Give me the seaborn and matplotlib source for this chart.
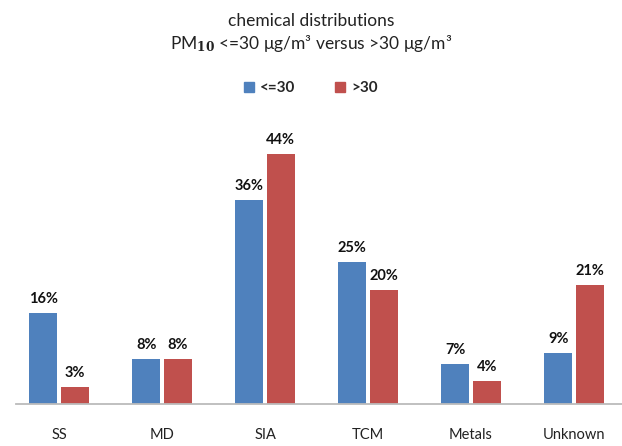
import matplotlib
matplotlib.use("Agg")
import matplotlib.pyplot as plt
import seaborn as sns
import pandas as pd

categories = ["SS", "MD", "SIA", "TCM", "Metals", "Unknown"]
low_pm = [16, 8, 36, 25, 7, 9]      # PM10 <= 30 µg/m3, percent
high_pm = [3, 8, 44, 20, 4, 21]     # PM10 > 30 µg/m3, percent
series_names = ["<=30", ">30"]
colors = ["#4F81BD", "#C0504D"]

df = pd.DataFrame({
    "component": categories * 2,
    "share": low_pm + high_pm,
    "group": [series_names[0]] * len(categories) + [series_names[1]] * len(categories),
})

sns.set_theme(style="white")
plt.rcParams["font.family"] = ["Lato", "DejaVu Sans"]
plt.rcParams["mathtext.fontset"] = "dejavuserif"

fig = plt.figure(figsize=(6.22, 4.46), dpi=100)
ax = fig.add_axes([16 / 622, 42 / 446, 606 / 622, 284 / 446])

sns.barplot(data=df, x="component", y="share", hue="group",
            palette=colors, width=0.61, gap=0.11, saturation=1,
            linewidth=0, ax=ax, legend=False)

ax.set_ylim(0, 50)
ax.set_xlim(-0.4175, 5.466)
ax.set_xlabel("")
ax.set_ylabel("")
ax.set_yticks([])
ax.tick_params(axis="x", length=0, pad=17, labelsize=10.5, colors="#222222")
for side in ["top", "left", "right"]:
    ax.spines[side].set_visible(False)
ax.spines["bottom"].set_color("#BBBBBB")
ax.spines["bottom"].set_linewidth(1.3)

for container, vals in zip(ax.containers, [low_pm, high_pm]):
    ax.bar_label(container, labels=[f"{v}%" for v in vals], padding=5,
                 fontsize=10.5, fontweight="bold", color="#111111")

fig.text(0.5, 1 - 21 / 446, "chemical distributions", ha="center", va="center",
         fontsize=12.5, color="#222222")
fig.text(0.5, 1 - 43 / 446,
         r"PM$_{\mathbf{10}}$ <=30 μg/m³ versus >30 μg/m³",
         ha="center", va="center", fontsize=12.5, color="#222222")

handles = [plt.Rectangle((0, 0), 1, 1, color=c) for c in colors]
fig.legend(handles, series_names, loc="center", bbox_to_anchor=(0.5, 1 - 88 / 446),
           ncol=2, frameon=False, handlelength=0.65, handleheight=0.65,
           handletextpad=0.4, columnspacing=2.6,
           prop={"weight": "bold", "size": 11})

fig.savefig("out.png", dpi=100)
